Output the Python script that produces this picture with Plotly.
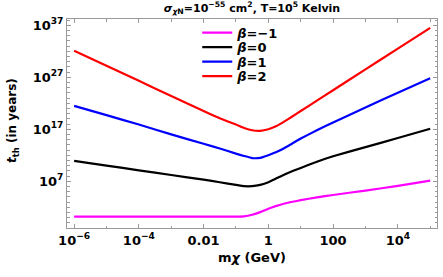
import plotly.graph_objects as go

# log10 of dark-matter mass m_chi (GeV)
log_m = [-6, -5, -4, -3, -2, -1.5, -1, -0.75, -0.5, -0.25, 0, 0.25, 0.5, 0.75, 1, 1.5, 2, 3, 4, 5]

# log10 of thermalization time t_th (years) for each beta
log_t_beta_m1 = [0.2, 0.2, 0.2, 0.2, 0.2, 0.2, 0.2, 0.25, 0.55, 1.05, 1.7, 2.25, 2.7, 3.05, 3.35, 3.9, 4.35, 5.2, 6.1, 7.1]
log_t_beta_0 = [10.9, 10.0, 9.1, 8.2, 7.3, 6.8, 6.3, 6.05, 6.05, 6.3, 6.8, 7.55, 8.3, 8.95, 9.55, 10.75, 11.8, 13.55, 15.3, 17.1]
log_t_beta_1 = [21.5, 19.7, 17.9, 16.0, 14.2, 13.3, 12.3, 11.85, 11.45, 11.5, 12.0, 12.6, 13.4, 14.3, 15.2, 16.8, 18.3, 21.2, 24.0, 26.8]
log_t_beta_2 = [32.1, 29.2, 26.3, 23.4, 20.5, 19.1, 17.9, 17.25, 16.8, 16.7, 17.0, 17.6, 18.5, 19.5, 20.5, 22.5, 24.5, 28.5, 32.5, 36.5]

series_names = ["<i>β</i>=−1", "<i>β</i>=0", "<i>β</i>=1", "<i>β</i>=2"]
series_colors = ["#FF00FF", "#000000", "#0000FF", "#FF0000"]

x_tick_vals = [1e-6, 1e-4, 1e-2, 1.0, 100.0, 1e4]
x_tick_text = ["10<sup>−6</sup>", "10<sup>−4</sup>", "0.01", "1", "100", "10<sup>4</sup>"]
x_minor_vals = [1e-5, 1e-3, 1e-1, 10.0, 1e3, 1e5]
y_tick_vals = [1e7, 1e17, 1e27, 1e37]
y_tick_text = ["10<sup>7</sup>", "10<sup>17</sup>", "10<sup>27</sup>", "10<sup>37</sup>"]
y_minor_exps = [k for k in range(-2, 39) if k not in (7, 17, 27, 37)]

mass = [10.0 ** v for v in log_m]
all_series = [log_t_beta_m1, log_t_beta_0, log_t_beta_1, log_t_beta_2]

FONT = "DejaVu Sans"
frame = "#9a9a9a"

W, H = 443, 277
L, R, T, B = 67, 6, 19, 49
plot_w = W - L - R
plot_h = H - T - B
legend_ids = ["legend", "legend2", "legend3", "legend4"]
legend_px_y = [32.7, 47.2, 61.7, 76.2]

fig = go.Figure()
for name, color, lt, lg in zip(series_names, series_colors, all_series, legend_ids):
    fig.add_trace(go.Scatter(
        x=mass, y=[10.0 ** v for v in lt], mode="lines", name=name, legend=lg,
        line=dict(color=color, width=2.2, shape="spline", smoothing=0.3),
    ))

legend_common = dict(
    x=0.352, xanchor="left", yanchor="middle",
    bgcolor="rgba(0,0,0,0)", borderwidth=0,
    font=dict(family=FONT, size=13, color="black", weight="bold"),
    itemwidth=30,
)
legend_layouts = {}
for lg, py in zip(legend_ids, legend_px_y):
    legend_layouts[lg] = dict(legend_common, y=(H - B - py) / plot_h)

fig.update_layout(
    width=W, height=H,
    margin=dict(l=L, r=R, t=T, b=B, autoexpand=False),
    paper_bgcolor="white", plot_bgcolor="white",
    title=dict(
        text="<i>σ</i><sub><i>χ</i>N</sub>=10<sup>−55</sup> cm<sup>2</sup>, T=10<sup>5</sup> Kelvin",
        x=(L + 185) / W, xanchor="center", y=1 - 8 / H, yanchor="middle",
        font=dict(family=FONT, size=11, color="black", weight="bold"),
    ),
    showlegend=True,
    xaxis=dict(
        type="log", range=[-6.22, 5.21], automargin=False,
        tickmode="array", tickvals=x_tick_vals, ticktext=x_tick_text,
        ticks="inside", ticklen=4, tickcolor=frame, tickwidth=1,
        showline=True, linecolor=frame, linewidth=1, mirror="ticks",
        showgrid=False, zeroline=False,
        tickfont=dict(family=FONT, size=13, color="black", weight="bold"),
        minor=dict(tickmode="array", tickvals=x_minor_vals, ticks="inside", ticklen=2.5, tickcolor=frame, showgrid=False),
        title=dict(text="m<i>χ</i> (GeV)", standoff=6,
                   font=dict(family=FONT, size=13, color="black", weight="bold")),
    ),
    yaxis=dict(
        type="log", range=[-2, 38.2], automargin=False,
        tickmode="array", tickvals=y_tick_vals, ticktext=y_tick_text,
        ticks="inside", ticklen=4, tickcolor=frame, tickwidth=1,
        showline=True, linecolor=frame, linewidth=1, mirror="ticks",
        showgrid=False, zeroline=False,
        tickfont=dict(family=FONT, size=13, color="black", weight="bold"),
        minor=dict(tickmode="array", tickvals=[10.0 ** k for k in y_minor_exps], ticks="inside", ticklen=2.5, tickcolor=frame, showgrid=False),
    ),
    annotations=[dict(
        text="<i>t</i><sub>th</sub> (in years)",
        xref="paper", yref="paper",
        x=(13 - L) / plot_w, y=(H - B - 121) / plot_h,
        xanchor="center", yanchor="middle", textangle=-90, showarrow=False,
        font=dict(family=FONT, size=12, color="black", weight="bold"),
    )],
    **legend_layouts,
)

fig.write_html("out.html", config={"displayModeBar": False},
               post_script="document.body.style.margin='0';")
